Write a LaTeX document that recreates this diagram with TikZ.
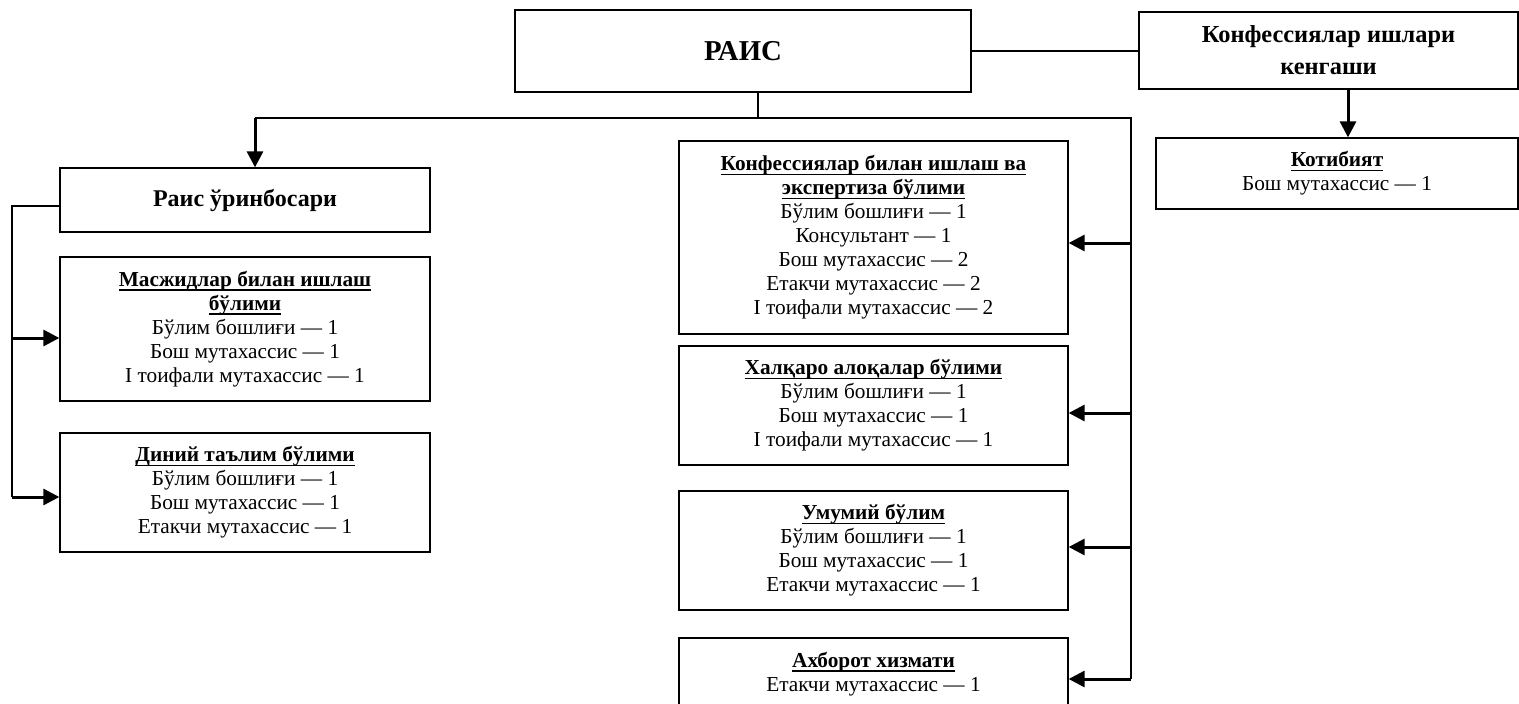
\documentclass[tikz,border=0pt]{standalone}
\usepackage{fontspec}
\setmainfont{Liberation Serif}
\usetikzlibrary{arrows.meta}
\newcommand\ulh[1]{\setbox0\hbox{\textbf{#1}}\leavevmode\rlap{\rule[-4.6pt]{\wd0}{1.6pt}}\box0}
\begin{document}
\begin{tikzpicture}[x=1pt,y=-1pt,
  box/.style={draw, line width=1.3pt, inner sep=0pt, align=center,
    font=\fontsize{21.3}{24}\selectfont},
  col/.style={box, minimum width=389pt},
  lft/.style={box, minimum width=370pt},
  bus/.style={line width=1.8pt},
  thinline/.style={line width=1.4pt},
  arr/.style={line width=3pt, -{Triangle[length=16pt,width=16pt]}}]
\useasboundingbox (0,0) rectangle (1519,704);
% top
\node[box, minimum width=456pt, minimum height=82pt, font=\fontsize{28.8}{32}\selectfont\bfseries] (rais) at (743,51) {РАИС};
\node[box, minimum width=379pt, minimum height=77pt, font=\fontsize{24.4}{32}\selectfont\bfseries] (kengash) at (1328.5,50.5) {Конфессиялар ишлари\\кенгаши};
\node[box, minimum width=362pt, minimum height=71pt] (kotib) at (1337,173.5) {\ulh{Котибият}\\Бош мутахассис — 1};
% left column
\node[lft, minimum height=64pt, font=\fontsize{24}{28}\selectfont\bfseries] (orin) at (245,200) {Раис ўринбосари};
\node[lft, minimum height=144pt] (masjid) at (245,329) {\ulh{Масжидлар билан ишлаш}\\\ulh{бўлими}\\Бўлим бошлиғи — 1\\Бош мутахассис — 1\\I тоифали мутахассис — 1};
\node[lft, minimum height=119pt] (diniy) at (245,492.5) {\ulh{Диний таълим бўлими}\\Бўлим бошлиғи — 1\\Бош мутахассис — 1\\Етакчи мутахассис — 1};
% center column
\node[col, minimum height=193pt] (konf) at (873.5,237.5) {\ulh{Конфессиялар билан ишлаш ва}\\\ulh{экспертиза бўлими}\\Бўлим бошлиғи — 1\\Консультант — 1\\Бош мутахассис — 2\\Етакчи мутахассис — 2\\I тоифали мутахассис — 2};
\node[col, minimum height=119pt] (xalqaro) at (873.5,405.5) {\ulh{Халқаро алоқалар бўлими}\\Бўлим бошлиғи — 1\\Бош мутахассис — 1\\I тоифали мутахассис — 1};
\node[col, minimum height=119pt] (umumiy) at (873.5,550.5) {\ulh{Умумий бўлим}\\Бўлим бошлиғи — 1\\Бош мутахассис — 1\\Етакчи мутахассис — 1};
\node[col, minimum height=72pt] (axborot) at (873.5,674) {\ulh{Ахборот хизмати}\\Етакчи мутахассис — 1};
% coordinates
\coordinate (top) at (758,118);
\coordinate (bl) at (255,118);
\coordinate (br) at (1131,118);
\coordinate (b1) at (1131,243);
\coordinate (b2) at (1131,413);
\coordinate (b3) at (1131,547);
\coordinate (b4) at (1131,679);
\coordinate (l0) at (12,206);
\coordinate (l1) at (12,338);
\coordinate (l2) at (12,497);
\coordinate (k) at (1348,0);
% connectors
\draw[thinline] (rais.east) -- (rais.east -| kengash.west);
\draw[thinline] (rais.south -| top) -- (top);
\draw[bus] (bl) -- (br) -- (b4);
\draw[arr] (bl) -- (bl |- orin.north);
\draw[arr] (b1) -- (b1 -| konf.east);
\draw[arr] (b2) -- (b2 -| xalqaro.east);
\draw[arr] (b3) -- (b3 -| umumiy.east);
\draw[arr] (b4) -- (b4 -| axborot.east);
\draw[bus] (l0 -| orin.west) -- (l0) -- (l2);
\draw[arr] (l1) -- (l1 -| masjid.west);
\draw[arr] (l2) -- (l2 -| diniy.west);
\draw[arr] (k |- kengash.south) -- (k |- kotib.north);
\end{tikzpicture}
\end{document}
